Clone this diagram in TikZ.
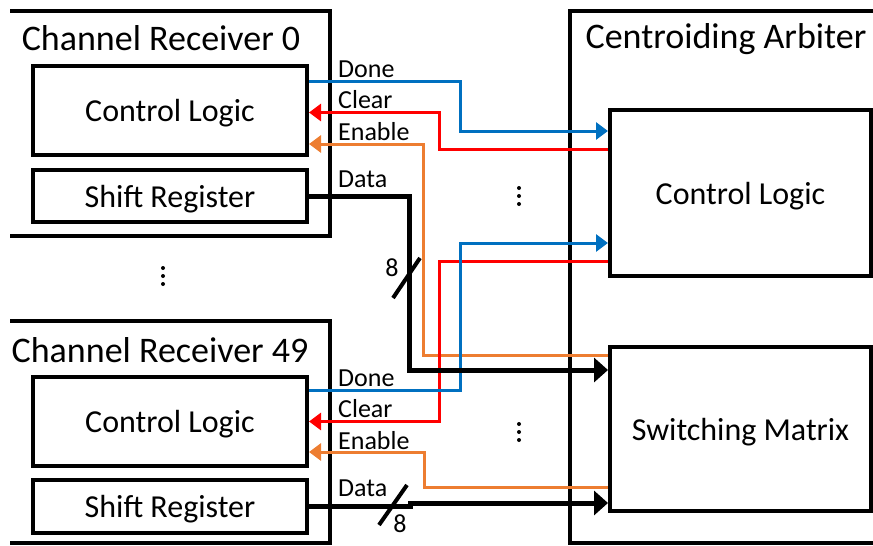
\documentclass[tikz,border=0pt]{standalone}
\usepackage{fontspec}
\setmainfont{Carlito}
\usetikzlibrary{arrows.meta}

\definecolor{doneblue}{RGB}{0,112,192}
\definecolor{clearred}{RGB}{255,0,0}
\definecolor{enableorange}{RGB}{237,125,49}

\begin{document}
\begin{tikzpicture}[%
  x = 1pt, y = -1pt,
  frame/.style = {line width=4pt, line join=miter},
  block/.style = {draw, line width=4pt, inner sep=0pt, align=center, text depth=0pt,
    font=\fontsize{32}{38}\selectfont},
  title/.style = {anchor=base, inner sep=0pt, font=\fontsize{36}{43}\selectfont},
  sig/.style = {anchor=base west, inner sep=0pt, font=\fontsize{26}{31}\selectfont},
  wire/.style = {line width=3pt},
  done/.style = {wire, draw=doneblue, -{Triangle[length=12pt,width=17pt]}},
  clear/.style = {wire, draw=clearred, -{Triangle[length=12pt,width=17pt]}},
  enable/.style = {wire, draw=enableorange, -{Triangle[length=12pt,width=17pt]}},
  data/.style = {line width=5pt, -{Triangle[length=14pt,width=24pt]}},
  bus/.style = {line width=4pt},
]
  \useasboundingbox (0,0) rectangle (873,546);

  % receiver 0
  \draw[frame] (10,11) -- (330,11) -- (330,236) -- (10,236);
  \node[title] (t0) at (161,50) {Channel Receiver 0};
  \node[block, minimum width=274pt, minimum height=89pt] (cl0) at (170,110.5) {Control Logic};
  \node[block, minimum width=274pt, minimum height=52pt] (sr0) at (170,196) {Shift Register};

  % receiver 49
  \draw[frame] (10,321) -- (330,321) -- (330,543) -- (10,543);
  \node[title] (t49) at (160,362) {Channel Receiver 49};
  \node[block, minimum width=274pt, minimum height=89pt] (cl49) at (170,421.5) {Control Logic};
  \node[block, minimum width=274pt, minimum height=53pt] (sr49) at (170,506.5) {Shift Register};

  % arbiter
  \draw[frame] (876,11) -- (570,11) -- (570,543) -- (876,543);
  \node[title] (tarb) at (726,48) {Centroiding Arbiter};
  \node[block, minimum width=261pt, minimum height=166pt] (acl) at (740.5,193) {Control Logic};
  \node[block, minimum width=261pt, minimum height=164pt] (sm) at (740.5,429) {Switching Matrix};

  % vertical dots
  \foreach \x/\y in {163/276, 519/196, 519/432}
    \foreach \d in {0,1,2}
      \fill ({\x},{\y+8*\d-8}) circle (2pt);

  % signal names
  \node[sig] (done0) at (338,77) {Done};
  \node[sig] (clear0) at (338,108) {Clear};
  \node[sig] (enable0) at (338,140) {Enable};
  \node[sig] (data0) at (338,187) {Data};
  \node[sig] (done49) at (338,386) {Done};
  \node[sig] (clear49) at (338,417) {Clear};
  \node[sig] (enable49) at (338,449) {Enable};
  \node[sig] (data49) at (338,496) {Data};

  % wires
  \draw[enable] ([yshift=74pt]sm.west) -- ++(-185,0) |- ([yshift=-33.5pt]cl0.east);
  \draw[enable] ([yshift=-58pt]sm.west) -- ++(-184,0) |- ([yshift=-30.5pt]cl49.east);
  \draw[clear] ([yshift=44pt]acl.west) -- ++(-169,0) |- ([yshift=-2pt]cl0.east);
  \draw[clear] ([yshift=-68pt]acl.west) -- ++(-169,0) |- ([yshift=0pt]cl49.east);
  \draw[done] ([yshift=29.5pt]cl0.east) -- ++(151,0) |- ([yshift=62pt]acl.west);
  \draw[done] ([yshift=31.5pt]cl49.east) -- ++(151,0) |- ([yshift=-50pt]acl.west);
  \draw[data] (sr0.east) -- ++(100,0) |- ([yshift=59pt]sm.west);
  \draw[data] (sr49.east) -- ++(101,0) |- ([yshift=-74pt]sm.west);

  % bus widths
  \draw[bus] (393,298) -- (420,258);
  \node[sig, anchor=center] (w0) at (392,268) {8};
  \draw[bus] (379,525) -- (407,485);
  \node[sig, anchor=center] (w49) at (400,524) {8};
\end{tikzpicture}
\end{document}
